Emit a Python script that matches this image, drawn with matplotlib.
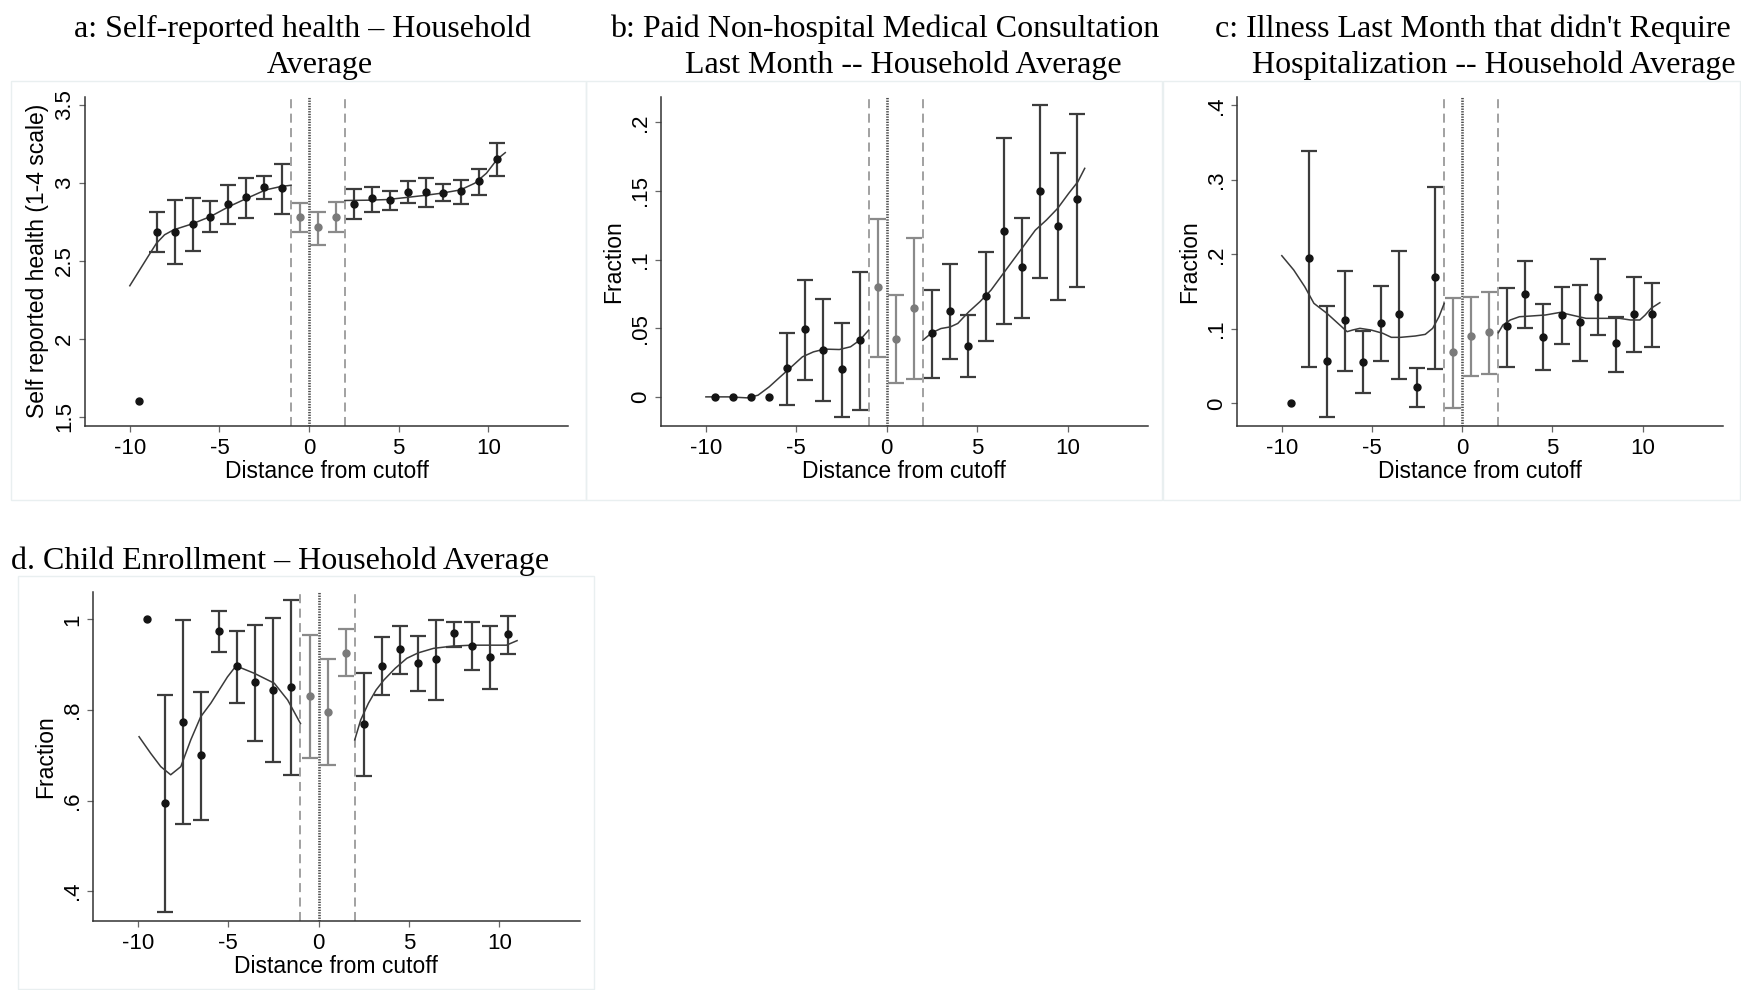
import numpy as np
import matplotlib.pyplot as plt
from matplotlib.patches import Rectangle

plt.rcParams['font.family'] = ['Liberation Sans', 'DejaVu Sans']

nan = np.nan

# -----------------------------
# Data: binned means with 95% CIs and local fits
# -----------------------------
bins = [-9.5, -8.5, -7.5, -6.5, -5.5, -4.5, -3.5, -2.5, -1.5, -0.5, 0.5,
        1.5, 2.5, 3.5, 4.5, 5.5, 6.5, 7.5, 8.5, 9.5, 10.5]

# a: self-reported health
health_mean = [1.60, 2.688, 2.688, 2.735, 2.784, 2.863, 2.912, 2.972, 2.966, 2.784, 2.714,
               2.784, 2.865, 2.900, 2.891, 2.942, 2.940, 2.938, 2.949, 3.009, 3.154]
health_lo = [nan, 2.556, 2.479, 2.562, 2.684, 2.737, 2.776, 2.895, 2.801, 2.684, 2.600,
             2.682, 2.767, 2.814, 2.823, 2.872, 2.844, 2.885, 2.863, 2.921, 3.047]
health_hi = [nan, 2.814, 2.887, 2.900, 2.885, 2.985, 3.034, 3.045, 3.122, 2.874, 2.816,
             2.878, 2.959, 2.974, 2.951, 3.009, 3.030, 2.991, 3.021, 3.092, 3.254]
health_fit_lx = [-10, -8.98, -8.51, -8.06, -7.55, -6.52, -5.5, -4.47, -3.45, -2.42, -1.6, -1.0]
health_fit_ly = [2.34, 2.528, 2.613, 2.667, 2.699, 2.737, 2.784, 2.848, 2.902, 2.955, 2.976, 2.985]
health_fit_rx = [2.0, 3.3, 4.35, 5.4, 6.4, 7.4, 8.45, 9.25, 9.9, 10.5, 10.95]
health_fit_ry = [2.887, 2.889, 2.893, 2.906, 2.919, 2.934, 2.955, 2.998, 3.062, 3.152, 3.194]

# b: paid non-hospital consultation
consult_mean = [0, 0, 0, 0, 0.0211, 0.0491, 0.0340, 0.0202, 0.0411, 0.0800, 0.0420,
                0.0649, 0.0462, 0.0625, 0.0374, 0.0734, 0.1210, 0.0945, 0.1499, 0.1247, 0.1439]
consult_lo = [nan, nan, nan, nan, -0.0056, 0.0126, -0.0032, -0.0146, -0.0092, 0.0294, 0.0100,
              0.0131, 0.0139, 0.0275, 0.0148, 0.0406, 0.0530, 0.0574, 0.0868, 0.0705, 0.0802]
consult_hi = [nan, nan, nan, nan, 0.0469, 0.0851, 0.0710, 0.0540, 0.0909, 0.1298, 0.0739,
              0.1154, 0.0778, 0.0967, 0.0600, 0.1057, 0.1888, 0.1303, 0.2126, 0.1779, 0.2063]
consult_fit_lx = [-10, -8.77, -7.73, -7.12, -6.5, -5.89, -5.27, -4.66, -4.05, -3.44, -2.62,
                  -2.0, -1.49, -1.0]
consult_fit_ly = [0.0, 0.0, -0.0007, 0.0012, 0.0073, 0.0146, 0.0219, 0.0292, 0.0328, 0.0348,
                  0.0345, 0.0365, 0.0413, 0.0486]
consult_fit_rx = [2.0, 2.49, 3.0, 3.52, 3.93, 4.54, 5.15, 5.77, 6.38, 6.99, 7.61, 8.22, 8.83,
                  9.45, 10.06, 10.57, 10.95]
consult_fit_ry = [0.0413, 0.0467, 0.0498, 0.051, 0.0535, 0.062, 0.0693, 0.0778, 0.0887, 0.0996,
                  0.1106, 0.1215, 0.1288, 0.1373, 0.1482, 0.1567, 0.1665]

# c: illness not requiring hospitalization
illness_mean = [0, 0.1946, 0.0568, 0.1119, 0.0559, 0.1083, 0.1195, 0.0223, 0.1690, 0.0693, 0.0903,
                0.0953, 0.1033, 0.1471, 0.0895, 0.1186, 0.1087, 0.1432, 0.0805, 0.1195, 0.1195]
illness_lo = [nan, 0.0492, -0.0179, 0.0438, 0.0143, 0.0564, 0.0327, -0.0045, 0.0456, -0.0063, 0.0366,
              0.0398, 0.0492, 0.1007, 0.0447, 0.0796, 0.0573, 0.0913, 0.0425, 0.0689, 0.0752]
illness_hi = [nan, 0.3391, 0.1306, 0.1781, 0.0966, 0.1579, 0.2049, 0.0474, 0.2899, 0.1418, 0.1427,
              0.1494, 0.1552, 0.1914, 0.1329, 0.1566, 0.1584, 0.1933, 0.1163, 0.1691, 0.1615]
illness_fit_lx = [-10, -9.34, -8.73, -8.22, -7.5, -6.89, -6.38, -6.08, -5.67, -5.05, -4.4, -3.93,
                  -3.42, -2.6, -2.05, -1.64, -1.29, -1.0]
illness_fit_ly = [0.1982, 0.179, 0.1566, 0.1342, 0.1208, 0.1074, 0.0962, 0.0984, 0.1007, 0.0984,
                  0.094, 0.0886, 0.0886, 0.0904, 0.0926, 0.1007, 0.1163, 0.1342]
illness_fit_rx = [2.0, 2.25, 2.66, 3.17, 3.79, 4.61, 5.43, 6.04, 6.86, 7.89, 8.71, 9.32, 9.84,
                  10.14, 10.46, 10.95]
illness_fit_ry = [0.0948, 0.1051, 0.1119, 0.1163, 0.1172, 0.1186, 0.1221, 0.1186, 0.1141, 0.1141,
                  0.1141, 0.1119, 0.1119, 0.1186, 0.1275, 0.1351]

# d: child enrollment
enroll_mean = [1.0, 0.594, 0.774, 0.700, 0.974, 0.896, 0.8625, 0.844, 0.851, 0.831, 0.796,
               0.926, 0.769, 0.897, 0.934, 0.903, 0.912, 0.969, 0.941, 0.918, 0.967]
enroll_lo = [nan, 0.355, 0.549, 0.557, 0.929, 0.816, 0.732, 0.686, 0.657, 0.693, 0.679,
             0.874, 0.655, 0.832, 0.879, 0.841, 0.822, 0.940, 0.888, 0.846, 0.923]
enroll_hi = [nan, 0.832, 0.999, 0.840, 1.018, 0.975, 0.988, 1.004, 1.043, 0.965, 0.912,
             0.979, 0.881, 0.962, 0.986, 0.963, 0.998, 0.994, 0.994, 0.985, 1.007]
enroll_fit_lx = [-9.93, -9.28, -8.73, -8.18, -7.62, -7.07, -6.52, -5.96, -5.5, -5.04, -4.67,
                 -4.3, -3.56, -2.45, -1.71, -1.0]
enroll_fit_ly = [0.741, 0.704, 0.675, 0.657, 0.675, 0.734, 0.785, 0.815, 0.844, 0.873, 0.892,
                 0.893, 0.881, 0.859, 0.822, 0.770]
enroll_fit_rx = [2.0, 2.33, 2.76, 3.18, 3.61, 4.24, 4.88, 5.51, 6.36, 7.42, 8.48, 9.54, 10.39, 10.98]
enroll_fit_ry = [0.734, 0.778, 0.815, 0.844, 0.866, 0.892, 0.914, 0.926, 0.936, 0.941, 0.943,
                 0.943, 0.943, 0.953]

# -----------------------------
# Figure layout (pixel boxes)
# -----------------------------
W, H = 1741, 990
fig = plt.figure(figsize=(W / 100, H / 100), dpi=100)


def box(l, t, r, b):
    return [l / W, 1 - b / H, (r - l) / W, (b - t) / H]


def frame(l, t, r, b):
    fig.add_artist(Rectangle((l / W, 1 - b / H), (r - l) / W, (b - t) / H,
                             transform=fig.transFigure, fill=False,
                             edgecolor='#e9eff0', lw=1.0))


frame(11, 81, 586, 500)
frame(586, 81, 1162, 500)
frame(1163, 81, 1740, 500)
frame(18, 576, 594, 989)

DARK = '#3c3c3c'
GRAY = '#8a8a8a'


def panel(ax, mean, lo, hi, flx, fly, frx, fry, ylim, yticks, ylabels, ylabel):
    x = np.array(bins)
    m = np.array(mean, dtype=float)
    lo = np.array(lo, dtype=float)
    hi = np.array(hi, dtype=float)
    mid = (x > -1) & (x < 2)

    for sel, ecol, dcol in [(~mid, DARK, '#141414'), (mid, GRAY, '#7a7a7a')]:
        ax.errorbar(x[sel], m[sel], yerr=[m[sel] - lo[sel], hi[sel] - m[sel]],
                    fmt='none', ecolor=ecol, elinewidth=1.6, capsize=5.5,
                    capthick=1.6, zorder=3)
        ax.plot(x[sel], m[sel], 'o', color=dcol, ms=5, zorder=4)

    ax.plot(flx, fly, color='#3a3a3a', lw=1.1, zorder=2)
    ax.plot(frx, fry, color='#3a3a3a', lw=1.1, zorder=2)

    # bandwidth bounds (dashed) and cutoff (dotted)
    ax.axvline(-1, color='#9a9a9a', lw=1.3, ls=(0, (5, 3)), zorder=1)
    ax.axvline(2, color='#9a9a9a', lw=1.3, ls=(0, (5, 3)), zorder=1)
    ax.axvline(0, color='#4a4a4a', lw=1.9, ls=(0, (0.5, 0.5)), zorder=1)

    ax.set_xlim(-12.5, 14.45)
    ax.set_ylim(*ylim)
    ax.set_xticks([-10, -5, 0, 5, 10])
    ax.set_xticklabels(['-10', '-5', '0', '5', '10'])
    ax.set_yticks(yticks)
    ax.set_yticklabels(ylabels, rotation=90, va='center')

    for s in ['top', 'right']:
        ax.spines[s].set_visible(False)
    for s in ['left', 'bottom']:
        ax.spines[s].set_color('#333333')
        ax.spines[s].set_linewidth(1.1)
    ax.tick_params(direction='out', length=4, width=0.9, color='#666666',
                   labelsize=16, labelcolor='black')
    ax.tick_params(axis='x', pad=5)
    ax.tick_params(axis='y', pad=3)

    bb = ax.get_position()
    w_px = bb.width * W
    h_px = bb.height * H
    ax.set_xlabel('Distance from cutoff', fontsize=16.5)
    ax.xaxis.label.set_va('center')
    ax.xaxis.set_label_coords(0.5, -46 / h_px)
    ax.set_ylabel(ylabel, fontsize=16.5)
    ax.yaxis.label.set_va('center')
    ax.yaxis.set_label_coords(-47 / w_px, 0.5)


ax_a = fig.add_axes(box(85, 96.7, 568, 425.7))
panel(ax_a, health_mean, health_lo, health_hi, health_fit_lx, health_fit_ly,
      health_fit_rx, health_fit_ry, (1.442, 3.553), [1.5, 2, 2.5, 3, 3.5],
      ['1.5', '2', '2.5', '3', '3.5'], 'Self reported health (1-4 scale)')

ax_b = fig.add_axes(box(660.7, 96.7, 1148, 425.7))
panel(ax_b, consult_mean, consult_lo, consult_hi, consult_fit_lx, consult_fit_ly,
      consult_fit_rx, consult_fit_ry, (-0.021, 0.2187), [0, 0.05, 0.1, 0.15, 0.2],
      ['0', '.05', '.1', '.15', '.2'], 'Fraction')

ax_c = fig.add_axes(box(1236.7, 96.7, 1723, 425.7))
panel(ax_c, illness_mean, illness_lo, illness_hi, illness_fit_lx, illness_fit_ly,
      illness_fit_rx, illness_fit_ry, (-0.030, 0.4116), [0, 0.1, 0.2, 0.3, 0.4],
      ['0', '.1', '.2', '.3', '.4'], 'Fraction')

ax_d = fig.add_axes(box(92.6, 591.7, 579.8, 920.7))
panel(ax_d, enroll_mean, enroll_lo, enroll_hi, enroll_fit_lx, enroll_fit_ly,
      enroll_fit_rx, enroll_fit_ry, (0.335, 1.061), [0.4, 0.6, 0.8, 1.0],
      ['.4', '.6', '.8', '1'], 'Fraction')

# -----------------------------
# Panel titles
# -----------------------------
serif = ['Liberation Serif', 'DejaVu Serif']
titles = [
    ('a: Self-reported health \u2013 Household', 302, 37),
    ('Average', 320, 73.5),
    ('b: Paid Non-hospital Medical Consultation', 885, 37),
    ('Last Month -- Household Average', 903, 73.5),
    ("c: Illness Last Month that didn't Require", 1473, 37),
    ('Hospitalization -- Household Average', 1494, 73.5),
]
for txt, cx, base in titles:
    fig.text(cx / W, 1 - base / H, txt, family=serif, fontsize=23,
             ha='center', va='baseline')
fig.text(10.7 / W, 1 - 568.5 / H, 'd. Child Enrollment \u2013 Household Average',
         family=serif, fontsize=23, ha='left', va='baseline')

fig.savefig('out.png', dpi=100, facecolor='white')
